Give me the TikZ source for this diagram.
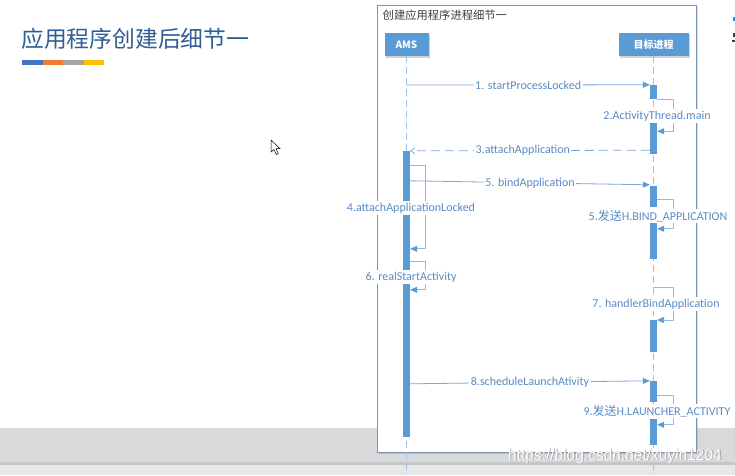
\documentclass[tikz,border=0pt]{standalone}
\usepackage{fontspec}
\setmainfont{Carlito}
\newfontfamily\cjk{Noto Sans CJK SC}
\newfontfamily\wmfont{Liberation Sans}
\usetikzlibrary{arrows.meta,shadows}
\definecolor{titleblue}{HTML}{2F5D95}
\definecolor{barblue}{HTML}{5B9BD5}
\definecolor{linkblue}{HTML}{7BA7DA}
\definecolor{selfblue}{HTML}{92B8E4}
\definecolor{lifeblue}{HTML}{9DC3E6}
\definecolor{lblblue}{HTML}{5A8AC4}
\definecolor{framec}{HTML}{7D92B0}
\definecolor{bandgray}{HTML}{D9D9DB}
\definecolor{lowgray}{HTML}{E7E7E9}
\definecolor{edgegray}{HTML}{C6C6C8}
\definecolor{accblue}{HTML}{4472C4}
\definecolor{accorange}{HTML}{ED7D31}
\definecolor{accgray}{HTML}{A5A5A5}
\definecolor{accyellow}{HTML}{FFC000}
\definecolor{markblue}{HTML}{2E8BD8}
\definecolor{markdark}{HTML}{404040}
\begin{document}
\begin{tikzpicture}[x=1pt,y=-1pt,
  bar/.style={rectangle, fill=barblue, minimum width=7pt, inner sep=0pt, draw=none},
  head/.style={rectangle, fill=barblue, text=white, font=\cjk\bfseries\fontsize{10}{12}\selectfont,
    inner sep=0pt, minimum height=23pt,
    drop shadow={shadow xshift=1.5pt, shadow yshift=-1.5pt, opacity=0.35}},
  msg/.style={draw=linkblue, line width=0.8pt, -{Triangle[length=7pt,width=6pt,color=barblue]}},
  rmsg/.style={draw=linkblue, line width=0.8pt, dash pattern=on 9pt off 5pt, -{Straight Barb[length=4pt,width=6pt]}},
  selfmsg/.style={draw=selfblue, line width=0.7pt, -{Triangle[length=7pt,width=6pt,color=barblue]}},
  lbl/.style={fill=white, text=lblblue, font=\fontsize{12}{14}\selectfont, inner sep=1.5pt},
  life/.style={draw=lifeblue, line width=0.8pt, dash pattern=on 7pt off 4pt},
]
\useasboundingbox (0,0) rectangle (735,475);
% background
\fill[white] (0,0) rectangle (735,475);
\fill[bandgray] (0,428) rectangle (735,463);
\fill[lowgray] (0,463) rectangle (735,475);
\fill[edgegray] (0,461.5) rectangle (735,464.5);
% title
\node[font=\cjk\fontsize{22.8}{26}\selectfont, text=titleblue, anchor=west, inner sep=0pt] (title) at (21,39) {应用程序创建后细节一};
\fill[accblue] (22,60) rectangle (43,65);
\fill[accorange] (43,60) rectangle (63,65);
\fill[accgray] (63,60) rectangle (84,65);
\fill[accyellow] (84,60) rectangle (104,65);
% mouse cursor
\filldraw[fill=white, draw=black, line width=0.5pt] (271,140) -- (271,152) -- (274,149.5) -- (276.3,154.5) -- (278.3,153.6) -- (276,148.6) -- (280,148.6) -- cycle;
% cut-off marks at right edge
\fill[markblue] (733,17) rectangle (735,21);
\fill[markdark] (732.5,33) rectangle (735,37);
\fill[markdark] (732,40) rectangle (735,42);
% frame
\filldraw[draw=framec, line width=1pt, fill=white, drop shadow={shadow xshift=1.5pt, shadow yshift=-1.5pt, opacity=0.3}] (377,5) rectangle (696,452);
\node[font=\cjk\fontsize{11.3}{13}\selectfont, text=black!75, anchor=west, inner sep=0pt] (ftitle) at (382.5,15.5) {创建应用程序进程细节一};
% heads and lifelines
\node[head, minimum width=44pt] (ams) at (406.5,44.5) {AMS};
\node[head, minimum width=70pt] (tgt) at (653.5,44.5) {目标进程};
\coordinate (amsEnd) at (406.5,475);
\coordinate (tgtEnd) at (653.5,475);
\draw[life] (ams) -- (amsEnd);
\draw[life] (tgt) -- (tgtEnd);
% activation bars
\node[bar, minimum height=286pt] (a1) at (406.5,294) {};
\node[bar, minimum height=14pt] (t1) at (653.5,92) {};
\node[bar, minimum height=31pt] (t2) at (653.5,138.5) {};
\node[bar, minimum height=21pt] (t3) at (653.5,196.5) {};
\node[bar, minimum height=36pt] (t4) at (653.5,241) {};
\node[bar, minimum height=32pt] (t5) at (653.5,336) {};
\node[bar, minimum height=21pt] (t6) at (653.5,391.5) {};
\node[bar, minimum height=26pt] (t7) at (653.5,432) {};
% messages
\coordinate (s1) at (406.5,85);
\draw[msg] (s1) -- (t1.north west) node[lbl, midway] (l1) {1. startProcessLocked};
\draw[selfmsg] (t1.south east) -- ++(16,0) -- ++(0,32) -- ++(-16,0);
\node[lbl] (l2) at (657,116) {2.ActivityThread.main};
\draw[rmsg] ([yshift=4pt]t2.south west) -- (a1.north east) node[lbl, pos=0.53] (l3) {3.attachApplication};
\draw[selfmsg] ([yshift=-15pt]a1.north east) -- ++(15,0) -- ++(0,83) -- ++(-15,0);
\draw[msg] ([yshift=-30pt]a1.north east) -- ([yshift=1pt]t3.north west) node[lbl, midway] (l5) {5. bindApplication};
\node[lbl] (l4) at (411,208) {4.attachApplicationLocked};
\draw[selfmsg] ([yshift=-14pt]t3.north east) -- ++(16,0) -- ++(0,29) -- ++(-16,0);
\node[lbl] (l5b) at (658,216) {5.{\cjk 发送}H.BIND\_APPLICATION};
\draw[selfmsg] ([yshift=-111pt]a1.north east) -- ++(15,0) -- ++(0,28) -- ++(-15,0);
\node[lbl] (l6) at (411,277) {6. realStartActivity};
\coordinate (s7) at (653.5,287);
\draw[selfmsg] (s7) -- ++(20,0) -- ++(0,33) -- ++(-16.5,0);
\node[lbl] (l7) at (656,304) {7. handlerBindApplication};
\draw[msg] ([yshift=-233pt]a1.north east) -- (t6.north west) node[lbl, midway] (l8) {8.scheduleLaunchAtivity};
\draw[selfmsg] ([yshift=-15pt]t6.north east) -- ++(16,0) -- ++(0,29) -- ++(-16,0);
\node[lbl] (l9) at (657,411) {9.{\cjk 发送}H.LAUNCHER\_ACTIVITY};
% watermark
\node[font=\wmfont\fontsize{15.5}{17}\selectfont, text=black!40, inner sep=0pt] (wms) at (615.8,456.8) {https://blog.csdn.net/xuyin1204};
\node[font=\wmfont\fontsize{15.5}{17}\selectfont, text=white, inner sep=0pt] (wm) at (615,456) {https://blog.csdn.net/xuyin1204};
\end{tikzpicture}
\end{document}
